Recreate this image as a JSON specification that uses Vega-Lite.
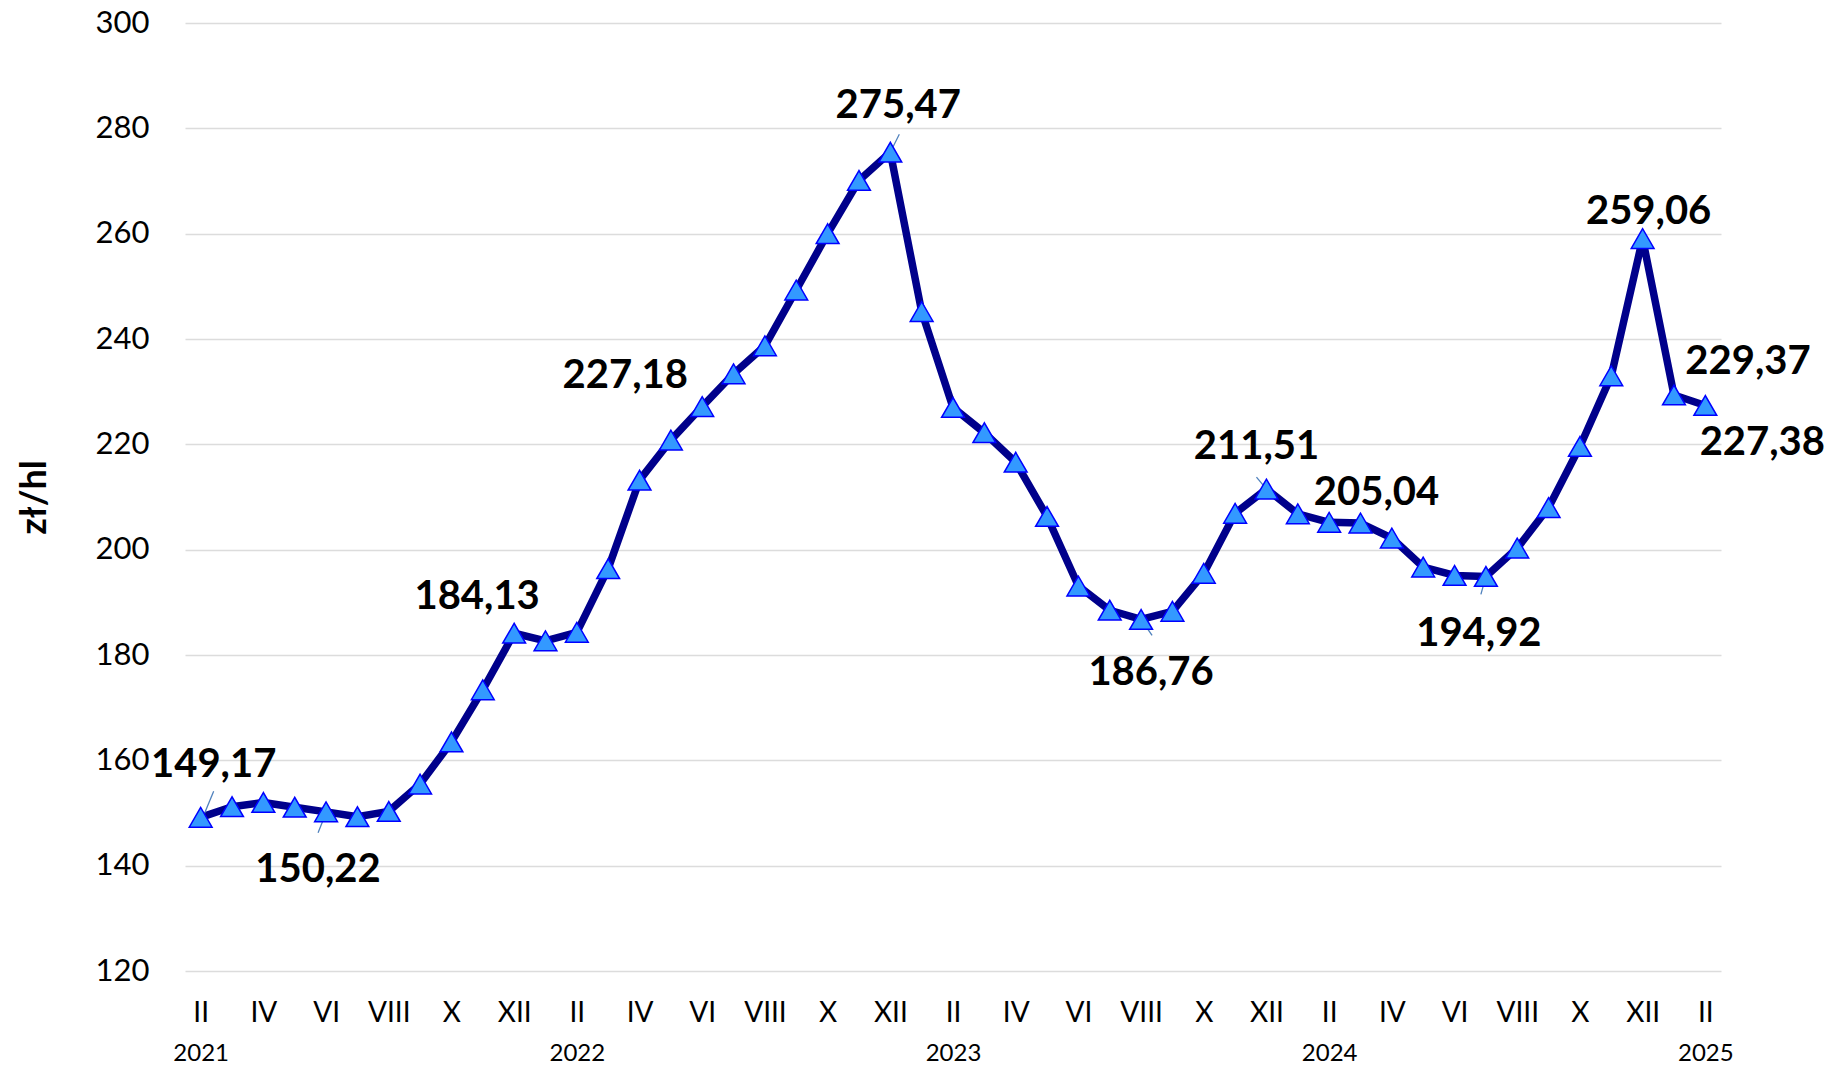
{
  "$schema": "https://vega.github.io/schema/vega-lite/v6.json",
  "width": 1536,
  "height": 948,
  "autosize": {"type": "none"},
  "padding": {"left": 185, "top": 23, "right": 111, "bottom": 97},
  "background": "white",
  "config": {
    "locale": {"number": {"decimal": ",", "thousands": " ", "grouping": [3], "currency": ["", " zł"]}},
    "view": {"stroke": null},
    "font": "Lato"
  },
  "data": {"values": [
    {"d": "2021-02", "v": 149.17},
    {"d": "2021-03", "v": 151.2},
    {"d": "2021-04", "v": 152.0},
    {"d": "2021-05", "v": 151.1},
    {"d": "2021-06", "v": 150.22},
    {"d": "2021-07", "v": 149.3},
    {"d": "2021-08", "v": 150.3},
    {"d": "2021-09", "v": 155.5},
    {"d": "2021-10", "v": 163.5},
    {"d": "2021-11", "v": 173.4},
    {"d": "2021-12", "v": 184.13},
    {"d": "2022-01", "v": 182.7},
    {"d": "2022-02", "v": 184.3},
    {"d": "2022-03", "v": 196.4},
    {"d": "2022-04", "v": 213.2},
    {"d": "2022-05", "v": 220.8},
    {"d": "2022-06", "v": 227.18},
    {"d": "2022-07", "v": 233.4},
    {"d": "2022-08", "v": 238.7},
    {"d": "2022-09", "v": 249.3},
    {"d": "2022-10", "v": 260.0},
    {"d": "2022-11", "v": 270.1},
    {"d": "2022-12", "v": 275.47},
    {"d": "2023-01", "v": 245.2},
    {"d": "2023-02", "v": 227.0},
    {"d": "2023-03", "v": 222.2},
    {"d": "2023-04", "v": 216.6},
    {"d": "2023-05", "v": 206.3},
    {"d": "2023-06", "v": 193.1},
    {"d": "2023-07", "v": 188.5},
    {"d": "2023-08", "v": 186.76},
    {"d": "2023-09", "v": 188.3},
    {"d": "2023-10", "v": 195.5},
    {"d": "2023-11", "v": 206.9},
    {"d": "2023-12", "v": 211.51},
    {"d": "2024-01", "v": 206.8},
    {"d": "2024-02", "v": 205.2},
    {"d": "2024-03", "v": 205.04},
    {"d": "2024-04", "v": 202.2},
    {"d": "2024-05", "v": 196.7},
    {"d": "2024-06", "v": 195.1},
    {"d": "2024-07", "v": 194.92},
    {"d": "2024-08", "v": 200.3},
    {"d": "2024-09", "v": 208.0},
    {"d": "2024-10", "v": 219.6},
    {"d": "2024-11", "v": 233.0},
    {"d": "2024-12", "v": 259.06},
    {"d": "2025-01", "v": 229.37},
    {"d": "2025-02", "v": 227.38}
  ]},
  "resolve": {"axis": {"x": "independent"}},
  "layer": [
    {
      "mark": {"type": "line", "color": "#00008B", "strokeWidth": 7.5, "strokeJoin": "round"},
      "encoding": {
        "x": {"field": "d", "type": "ordinal", "scale": {"type": "point", "padding": 0.5},
          "axis": {"orient": "bottom", "title": null, "domain": false, "ticks": false, "tickSize": 0, "grid": false, "labelAngle": 0, "labelOverlap": false,
            "labelFont": "Lato", "labelFontSize": 28, "labelColor": "#000", "labelPadding": 42, "labelBaseline": "middle",
            "labelExpr": "toNumber(slice(datum.value,5)) % 2 == 0 ? ['I','II','III','IV','V','VI','VII','VIII','IX','X','XI','XII'][toNumber(slice(datum.value,5))-1] : ''"}},
        "y": {"field": "v", "type": "quantitative", "scale": {"domain": [120, 300], "nice": false, "zero": false},
          "axis": {"title": "zł/hl", "values": [120, 140, 160, 180, 200, 220, 240, 260, 280, 300], "domain": false, "ticks": false, "tickSize": 0,
            "grid": true, "gridColor": "#dcdcdc", "gridWidth": 1.5,
            "labelFont": "Lato", "labelFontSize": 31, "labelColor": "#000", "labelPadding": 36, "labelBaseline": "middle",
            "titleFont": "Lato", "titleFontSize": 36, "titleFontWeight": "bold", "titleColor": "#000", "titlePadding": 42}}
      }
    },
    {
      "transform": [{"filter": "datum.d == '2021-02'"}],
      "mark": {"type": "rule", "color": "#4F81BD", "strokeWidth": 1.3, "xOffset": 1, "yOffset": 3, "x2Offset": 13, "y2Offset": -26},
      "encoding": {"x": {"field": "d", "type": "ordinal", "axis": null}, "y": {"field": "v", "type": "quantitative"}, "x2": {"field": "d"}, "y2": {"field": "v"}}
    },
    {
      "transform": [{"filter": "datum.d == '2021-06'"}],
      "mark": {"type": "rule", "color": "#4F81BD", "strokeWidth": 1.3, "xOffset": -8, "yOffset": 21, "x2Offset": 0, "y2Offset": 1},
      "encoding": {"x": {"field": "d", "type": "ordinal", "axis": null}, "y": {"field": "v", "type": "quantitative"}, "x2": {"field": "d"}, "y2": {"field": "v"}}
    },
    {
      "transform": [{"filter": "datum.d == '2022-12'"}],
      "mark": {"type": "rule", "color": "#4F81BD", "strokeWidth": 1.3, "xOffset": 0, "yOffset": 0, "x2Offset": 9, "y2Offset": -18},
      "encoding": {"x": {"field": "d", "type": "ordinal", "axis": null}, "y": {"field": "v", "type": "quantitative"}, "x2": {"field": "d"}, "y2": {"field": "v"}}
    },
    {
      "transform": [{"filter": "datum.d == '2023-08'"}],
      "mark": {"type": "rule", "color": "#4F81BD", "strokeWidth": 1.3, "xOffset": 0, "yOffset": 0, "x2Offset": 11, "y2Offset": 16},
      "encoding": {"x": {"field": "d", "type": "ordinal", "axis": null}, "y": {"field": "v", "type": "quantitative"}, "x2": {"field": "d"}, "y2": {"field": "v"}}
    },
    {
      "transform": [{"filter": "datum.d == '2023-12'"}],
      "mark": {"type": "rule", "color": "#4F81BD", "strokeWidth": 1.3, "xOffset": -10, "yOffset": -12, "x2Offset": 0, "y2Offset": 0},
      "encoding": {"x": {"field": "d", "type": "ordinal", "axis": null}, "y": {"field": "v", "type": "quantitative"}, "x2": {"field": "d"}, "y2": {"field": "v"}}
    },
    {
      "transform": [{"filter": "datum.d == '2024-07'"}],
      "mark": {"type": "rule", "color": "#4F81BD", "strokeWidth": 1.3, "xOffset": -5, "yOffset": 18, "x2Offset": 0, "y2Offset": 0},
      "encoding": {"x": {"field": "d", "type": "ordinal", "axis": null}, "y": {"field": "v", "type": "quantitative"}, "x2": {"field": "d"}, "y2": {"field": "v"}}
    },
    {
      "mark": {"type": "point", "shape": "triangle-up", "filled": true, "fill": "#3399FF", "stroke": "#0000FF", "strokeWidth": 1.5, "size": 520, "opacity": 1},
      "encoding": {
        "x": {"field": "d", "type": "ordinal",
          "axis": {"orient": "bottom", "title": null, "domain": false, "ticks": false, "tickSize": 0, "grid": false, "labelAngle": 0, "labelOverlap": false,
            "labelFont": "Lato", "labelFontSize": 24, "labelColor": "#000", "labelPadding": 82, "labelBaseline": "middle",
            "labelExpr": "slice(datum.value,5) == '02' ? slice(datum.value,0,4) : ''"}},
        "y": {"field": "v", "type": "quantitative"}
      }
    },
    {
      "transform": [{"filter": "datum.d == '2021-02'"}],
      "mark": {"type": "text", "font": "Lato", "fontWeight": "bold", "fontSize": 40, "color": "#000", "dx": 13, "dy": -52},
      "encoding": {"x": {"field": "d", "type": "ordinal", "axis": null}, "y": {"field": "v", "type": "quantitative"}, "text": {"field": "v", "type": "quantitative", "format": ".2f"}}
    },
    {
      "transform": [{"filter": "datum.d == '2021-06'"}],
      "mark": {"type": "text", "font": "Lato", "fontWeight": "bold", "fontSize": 40, "color": "#000", "dx": -8, "dy": 58},
      "encoding": {"x": {"field": "d", "type": "ordinal", "axis": null}, "y": {"field": "v", "type": "quantitative"}, "text": {"field": "v", "type": "quantitative", "format": ".2f"}}
    },
    {
      "transform": [{"filter": "datum.d == '2021-12'"}],
      "mark": {"type": "text", "font": "Lato", "fontWeight": "bold", "fontSize": 40, "color": "#000", "dx": -37, "dy": -36},
      "encoding": {"x": {"field": "d", "type": "ordinal", "axis": null}, "y": {"field": "v", "type": "quantitative"}, "text": {"field": "v", "type": "quantitative", "format": ".2f"}}
    },
    {
      "transform": [{"filter": "datum.d == '2022-06'"}],
      "mark": {"type": "text", "font": "Lato", "fontWeight": "bold", "fontSize": 40, "color": "#000", "dx": -77, "dy": -31},
      "encoding": {"x": {"field": "d", "type": "ordinal", "axis": null}, "y": {"field": "v", "type": "quantitative"}, "text": {"field": "v", "type": "quantitative", "format": ".2f"}}
    },
    {
      "transform": [{"filter": "datum.d == '2022-12'"}],
      "mark": {"type": "text", "font": "Lato", "fontWeight": "bold", "fontSize": 40, "color": "#000", "dx": 8, "dy": -46},
      "encoding": {"x": {"field": "d", "type": "ordinal", "axis": null}, "y": {"field": "v", "type": "quantitative"}, "text": {"field": "v", "type": "quantitative", "format": ".2f"}}
    },
    {
      "transform": [{"filter": "datum.d == '2023-08'"}],
      "mark": {"type": "text", "font": "Lato", "fontWeight": "bold", "fontSize": 40, "color": "#000", "dx": 10, "dy": 54},
      "encoding": {"x": {"field": "d", "type": "ordinal", "axis": null}, "y": {"field": "v", "type": "quantitative"}, "text": {"field": "v", "type": "quantitative", "format": ".2f"}}
    },
    {
      "transform": [{"filter": "datum.d == '2023-12'"}],
      "mark": {"type": "text", "font": "Lato", "fontWeight": "bold", "fontSize": 40, "color": "#000", "dx": -10, "dy": -42},
      "encoding": {"x": {"field": "d", "type": "ordinal", "axis": null}, "y": {"field": "v", "type": "quantitative"}, "text": {"field": "v", "type": "quantitative", "format": ".2f"}}
    },
    {
      "transform": [{"filter": "datum.d == '2024-03'"}],
      "mark": {"type": "text", "font": "Lato", "fontWeight": "bold", "fontSize": 40, "color": "#000", "dx": 16, "dy": -30},
      "encoding": {"x": {"field": "d", "type": "ordinal", "axis": null}, "y": {"field": "v", "type": "quantitative"}, "text": {"field": "v", "type": "quantitative", "format": ".2f"}}
    },
    {
      "transform": [{"filter": "datum.d == '2024-07'"}],
      "mark": {"type": "text", "font": "Lato", "fontWeight": "bold", "fontSize": 40, "color": "#000", "dx": -7, "dy": 58},
      "encoding": {"x": {"field": "d", "type": "ordinal", "axis": null}, "y": {"field": "v", "type": "quantitative"}, "text": {"field": "v", "type": "quantitative", "format": ".2f"}}
    },
    {
      "transform": [{"filter": "datum.d == '2024-12'"}],
      "mark": {"type": "text", "font": "Lato", "fontWeight": "bold", "fontSize": 40, "color": "#000", "dx": 6, "dy": -27},
      "encoding": {"x": {"field": "d", "type": "ordinal", "axis": null}, "y": {"field": "v", "type": "quantitative"}, "text": {"field": "v", "type": "quantitative", "format": ".2f"}}
    },
    {
      "transform": [{"filter": "datum.d == '2025-01'"}],
      "mark": {"type": "text", "font": "Lato", "fontWeight": "bold", "fontSize": 40, "color": "#000", "dx": 74, "dy": -33},
      "encoding": {"x": {"field": "d", "type": "ordinal", "axis": null}, "y": {"field": "v", "type": "quantitative"}, "text": {"field": "v", "type": "quantitative", "format": ".2f"}}
    },
    {
      "transform": [{"filter": "datum.d == '2025-02'"}],
      "mark": {"type": "text", "font": "Lato", "fontWeight": "bold", "fontSize": 40, "color": "#000", "dx": 57, "dy": 38},
      "encoding": {"x": {"field": "d", "type": "ordinal", "axis": null}, "y": {"field": "v", "type": "quantitative"}, "text": {"field": "v", "type": "quantitative", "format": ".2f"}}
    }
  ]
}
